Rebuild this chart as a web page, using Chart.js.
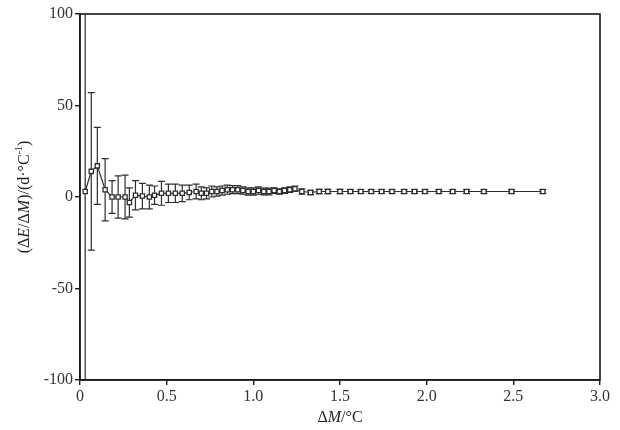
<!DOCTYPE html>
<html>
<head>
<meta charset="utf-8">
<script src="https://cdn.jsdelivr.net/npm/chart.js@4"></script>
<style>
html,body{margin:0;padding:0;background:#fff;}
#wrap{width:620px;height:430px;position:relative;}
</style>
</head>
<body>
<div id="wrap"><canvas id="c" width="620" height="430"></canvas></div>
<script>
// ΔM values (°C)
const xVals = [0.03,0.065,0.10,0.145,0.185,0.22,0.26,0.285,0.32,0.36,0.40,0.43,0.47,0.51,0.55,0.59,0.63,0.67,0.70,0.73,0.76,0.79,0.82,0.85,0.88,0.91,0.94,0.97,1.00,1.03,1.06,1.09,1.12,1.15,1.18,1.21,1.24,1.28,1.33,1.38,1.43,1.50,1.56,1.62,1.68,1.74,1.80,1.87,1.93,1.99,2.07,2.15,2.23,2.33,2.49,2.67];
// ΔE/ΔM values (d·°C⁻¹)
const yVals = [3,14,17,4,0,0,0,-3,1,0.5,0,1,2,2,2,2,2.5,3,2,2,3,3,3.5,4,4,4,3.5,3,3,3.5,3,3,3.5,3,3.5,4,4.5,3,2.5,3,3,3,3,3,3,3,3,3,3,3,3,3,3,3,3,3];
// half-widths of error bars
const errVals = [250,43,21,17,9,11.5,12,8,8,7,6.5,5,6.5,5,5,4.5,4,4,3.5,3,3,2.5,2.5,2.5,2.2,2.2,2,2,2,2,1.8,1.8,1.5,1.5,1.5,1.5,1.5,1.5,1.2,1.2,1.2,1.2,1,1,1,1,1,1,1,1,1,1,1,1,1,1];
const xTicks = [0,0.5,1.0,1.5,2.0,2.5,3.0];
const yTicks = [-100,-50,0,50,100];

const INK = '#2e2e2e';
const FONT = '"Liberation Serif", "Times New Roman", serif';

const points = xVals.map((x,i)=>({x:x,y:yVals[i],e:errVals[i]}));

const errorBars = {
  id:'errorBars',
  beforeDatasetsDraw(chart){
    const {ctx, chartArea:a, scales:{x,y}} = chart;
    ctx.save();
    ctx.beginPath(); ctx.rect(a.left,a.top,a.right-a.left,a.bottom-a.top); ctx.clip();
    ctx.strokeStyle = INK; ctx.lineWidth = 1.2;
    points.forEach(p=>{
      const px = x.getPixelForValue(p.x);
      const t = y.getPixelForValue(p.y+p.e);
      const b = y.getPixelForValue(p.y-p.e);
      ctx.beginPath();
      ctx.moveTo(px,t); ctx.lineTo(px,b);
      ctx.moveTo(px-3.5,t); ctx.lineTo(px+3.5,t);
      ctx.moveTo(px-3.5,b); ctx.lineTo(px+3.5,b);
      ctx.stroke();
    });
    ctx.restore();
  }
};

function renderMixed(ctx, parts, size, x0, y0){
  let x = x0;
  parts.forEach(p=>{
    ctx.font = (p[1]?'italic ':'') + (p[2]?Math.round(size*0.65):size)+'px '+FONT;
    ctx.fillText(p[0], x, y0 + (p[2]? -size*0.35 : 0));
    x += ctx.measureText(p[0]).width;
  });
}
function measureMixed(ctx, parts, size){
  let w = 0;
  parts.forEach(p=>{ ctx.font=(p[1]?'italic ':'')+(p[2]?Math.round(size*0.65):size)+'px '+FONT; w+=ctx.measureText(p[0]).width; });
  return w;
}

const frameAndTitles = {
  id:'frameAndTitles',
  afterDraw(chart){
    const {ctx, chartArea:a} = chart;
    ctx.save();
    ctx.strokeStyle = '#1a1a1a'; ctx.lineWidth = 1.6;
    ctx.strokeRect(a.left, a.top, a.right-a.left, a.bottom-a.top);
    ctx.fillStyle = '#222';
    ctx.textBaseline = 'middle'; ctx.textAlign = 'left';
    const size = 16;
    const xp = [['Δ',false],['M',true],['/°C',false]];
    const w = measureMixed(ctx, xp, size);
    renderMixed(ctx, xp, size, (a.left+a.right)/2 - w/2, 418);
    const yp = [['(Δ',false],['E',true],['/Δ',false],['M',true],[')/(d·°C',false],['-1',false,true],[')',false]];
    const wy = measureMixed(ctx, yp, size);
    ctx.translate(25, (a.top+a.bottom)/2);
    ctx.rotate(-Math.PI/2);
    renderMixed(ctx, yp, size, -wy/2, 0);
    ctx.restore();
  }
};

new Chart(document.getElementById('c'), {
  type:'scatter',
  data:{datasets:[{
    data: points,
    showLine:true,
    borderColor: INK,
    borderWidth: 1.2,
    pointStyle:'rect',
    pointRadius: 3,
    pointBackgroundColor:'#ffffff',
    pointBorderColor: INK,
    pointBorderWidth: 1.3,
    clip: 0
  }]},
  options:{
    responsive:false,
    animation:false,
    events:[],
    layout:{padding:{left:0,right:20,top:14,bottom:0}},
    plugins:{legend:{display:false},tooltip:{enabled:false}},
    scales:{
      x:{
        type:'linear', min:0, max:3,
        afterBuildTicks(s){ s.ticks = xTicks.map(v=>({value:v})); },
        afterFit(s){ s.height = 50; },
        grid:{display:true, drawOnChartArea:false, drawTicks:true, tickLength:5, color:'#1a1a1a', lineWidth:1.4},
        border:{display:true, color:'#1a1a1a', width:1.6},
        ticks:{color:'#333', padding:2, maxRotation:0, autoSkip:false,
          font:{family:FONT, size:16},
          callback:(v)=> v===0 ? '0' : v.toFixed(1)}
      },
      y:{
        type:'linear', min:-100, max:100,
        afterBuildTicks(s){ s.ticks = yTicks.map(v=>({value:v})); },
        afterFit(s){ s.width = 80; },
        grid:{display:true, drawOnChartArea:false, drawTicks:true, tickLength:5, color:'#1a1a1a', lineWidth:1.4},
        border:{display:true, color:'#1a1a1a', width:1.6},
        ticks:{color:'#333', padding:2, autoSkip:false,
          font:{family:FONT, size:16},
          callback:(v)=> String(v)}
      }
    }
  },
  plugins:[errorBars, frameAndTitles]
});
</script>
</body>
</html>
